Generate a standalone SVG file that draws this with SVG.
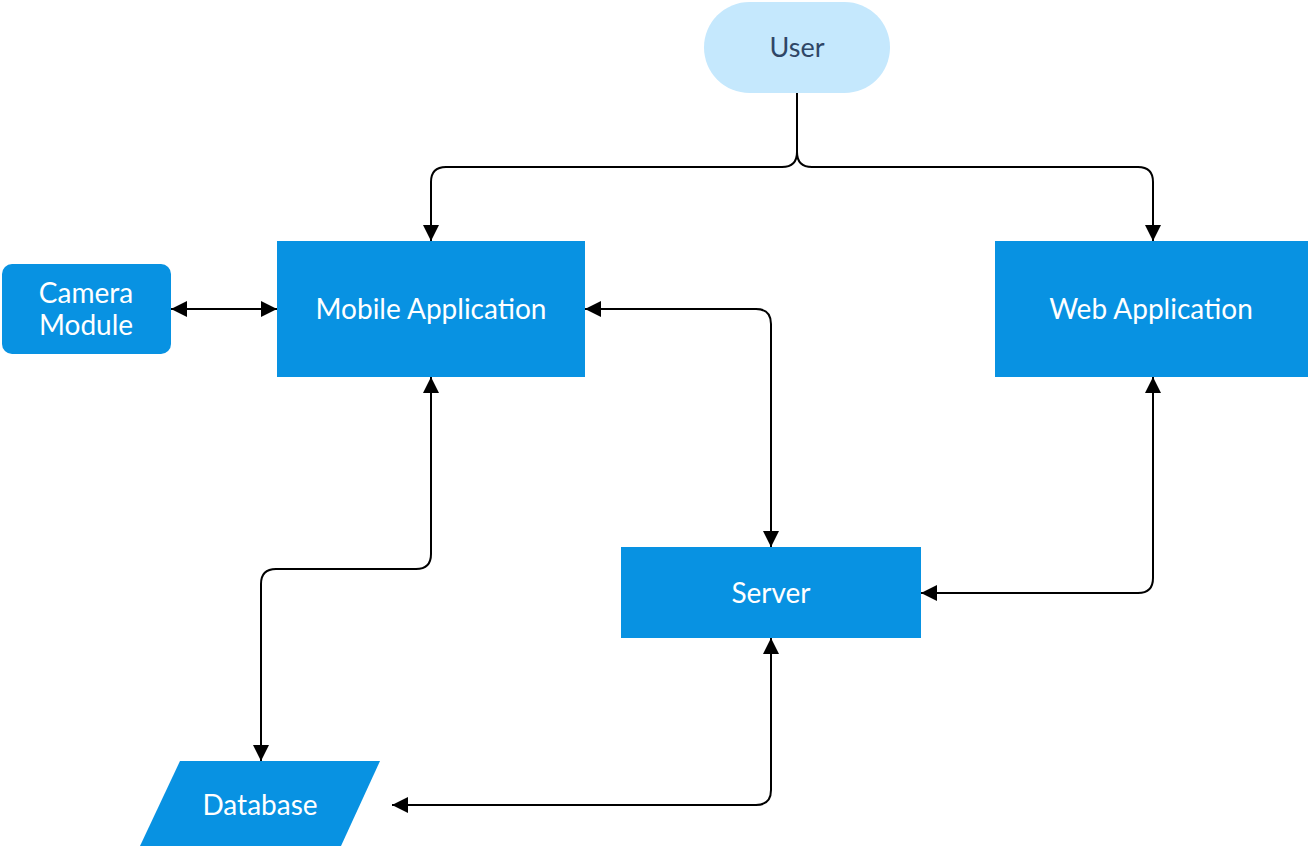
<svg xmlns="http://www.w3.org/2000/svg" width="1308" height="846" viewBox="0 0 1308 846">
<defs>
<style>
.box{fill:#0892e2}
.t{font-family:Lato,"Liberation Sans",sans-serif;font-size:28px;fill:#ffffff;text-anchor:middle;dominant-baseline:central}
.e{fill:none;stroke:#000;stroke-width:2}
</style>
<marker id="ah" viewBox="0 0 10 10" refX="10" refY="5" markerWidth="16" markerHeight="16" markerUnits="userSpaceOnUse" orient="auto-start-reverse">
<path d="M0,0 L10,5 L0,10 Z" fill="#000"/>
</marker>
</defs>
<rect width="1308" height="846" fill="#fff"/>
<g id="connectors">
<path class="e" d="M797,93 V152 Q797,167 782,167 H446 Q431,167 431,182 V241" marker-end="url(#ah)"/>
<path class="e" d="M797,93 V152 Q797,167 812,167 H1138 Q1153,167 1153,182 V241" marker-end="url(#ah)"/>
<path class="e" d="M171,309 H277" marker-start="url(#ah)" marker-end="url(#ah)"/>
<path class="e" d="M585,309 H756 Q771,309 771,324 V547" marker-start="url(#ah)" marker-end="url(#ah)"/>
<path class="e" d="M1153,377 V578 Q1153,593 1138,593 H921" marker-start="url(#ah)" marker-end="url(#ah)"/>
<path class="e" d="M431,377 V554 Q431,569 416,569 H276 Q261,569 261,584 V761" marker-start="url(#ah)" marker-end="url(#ah)"/>
<path class="e" d="M771,638 V790 Q771,805 756,805 H392" marker-start="url(#ah)" marker-end="url(#ah)"/>
</g>
<g id="user">
<rect x="704" y="2" width="186" height="91" rx="45.5" fill="#c5e8fd"/>
<text class="t" x="797" y="46" style="fill:#2f4666;font-size:27px">User</text>
</g>
<g id="mobile">
<rect class="box" x="277" y="241" width="308" height="136"/>
<text class="t" x="431" y="308">Mobile Application</text>
</g>
<g id="web">
<rect class="box" x="995" y="241" width="313" height="136"/>
<text class="t" x="1151" y="308">Web Application</text>
</g>
<g id="camera">
<rect class="box" x="2" y="264" width="169" height="90" rx="10"/>
<text class="t" x="86" y="292">Camera</text>
<text class="t" x="86" y="324">Module</text>
</g>
<g id="server">
<rect class="box" x="621" y="547" width="300" height="91"/>
<text class="t" x="771" y="592">Server</text>
</g>
<g id="database">
<polygon class="box" points="180,761 380,761 341,846 140,846"/>
<text class="t" x="260" y="804">Database</text>
</g>
</svg>
